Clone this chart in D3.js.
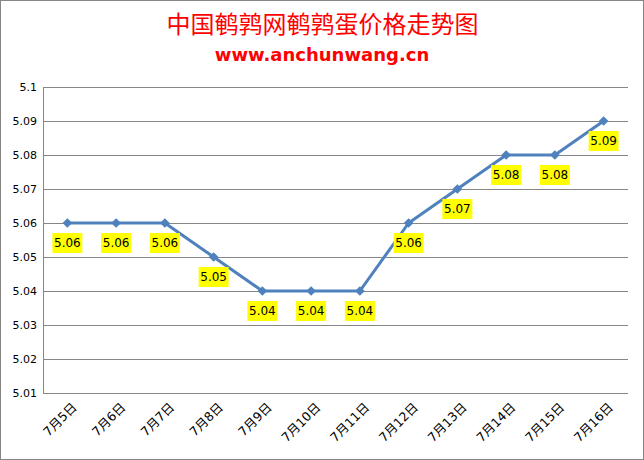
<!DOCTYPE html>
<html>
<head>
<meta charset="utf-8">
<script src="https://cdn.jsdelivr.net/npm/d3@7"></script>
<style>
  body { margin: 0; background: #fff; }
  svg text { font-family: Tahoma, "DejaVu Sans", "Noto Sans CJK SC", sans-serif; }
</style>
</head>
<body>
<div class="canvas"></div>
<script>
// DATA
var days = ['7月5日','7月6日','7月7日','7月8日','7月9日','7月10日','7月11日','7月12日','7月13日','7月14日','7月15日','7月16日'];
var prices = [5.06, 5.06, 5.06, 5.05, 5.04, 5.04, 5.04, 5.06, 5.07, 5.08, 5.08, 5.09];
var yTicks = [5.01, 5.02, 5.03, 5.04, 5.05, 5.06, 5.07, 5.08, 5.09, 5.1];

var w = 644, h = 460;
var margin = { left: 43, right: 16, top: 87, bottom: 67 };

var svg = d3.select('.canvas').append('svg')
    .attr('width', w)
    .attr('height', h);

// outer border
svg.append('rect')
    .attr('x', 0.5).attr('y', 0.5)
    .attr('width', w - 1).attr('height', h - 1)
    .attr('fill', '#fff')
    .attr('stroke', '#868686');

// TITLE
svg.append('text')
    .attr('x', w / 2 + 0.5).attr('y', 33)
    .attr('text-anchor', 'middle')
    .attr('fill', '#ff0000')
    .style('font-size', '24px')
    .style('font-family', '"Noto Sans CJK SC", sans-serif')
    .text('中国鹌鹑网鹌鹑蛋价格走势图');

svg.append('text')
    .attr('x', w / 2).attr('y', 61)
    .attr('text-anchor', 'middle')
    .attr('fill', '#ff0000')
    .style('font-size', '18px')
    .style('font-weight', 'bold')
    .text('www.anchunwang.cn');

// SCALES
var x = d3.scaleBand()
    .domain(days)
    .range([margin.left, w - margin.right]);

var y = d3.scaleLinear()
    .domain([5.01, 5.1])
    .range([h - margin.bottom, margin.top]);

// GRID
svg.append('g')
    .selectAll('line')
    .data(yTicks)
    .enter().append('line')
    .attr('x1', margin.left)
    .attr('x2', w - margin.right)
    .attr('y1', d => Math.round(y(d)) + 0.5)
    .attr('y2', d => Math.round(y(d)) + 0.5)
    .attr('stroke', '#868686')
    .attr('stroke-width', 1);

// left axis line
svg.append('line')
    .attr('x1', margin.left + 0.5).attr('x2', margin.left + 0.5)
    .attr('y1', margin.top).attr('y2', h - margin.bottom)
    .attr('stroke', '#868686');

// Y LABELS
svg.append('g')
    .selectAll('text')
    .data(yTicks)
    .enter().append('text')
    .attr('x', margin.left - 6)
    .attr('y', d => y(d))
    .attr('dy', '0.35em')
    .attr('text-anchor', 'end')
    .style('font-size', '11px')
    .attr('fill', '#000')
    .text(d => d3.format('.3~f')(d));

// X LABELS
svg.append('g')
    .selectAll('text')
    .data(days)
    .enter().append('text')
    .attr('transform', d => 'translate(' + (x(d) + x.bandwidth() / 2 + 7) + ',' + (h - margin.bottom + 12) + ') rotate(-45)')
    .attr('text-anchor', 'end')
    .attr('dy', '0.35em')
    .style('font-size', '12.5px')
    .attr('fill', '#000')
    .text(d => d);

// LINE
var cx = (d, i) => x(days[i]) + x.bandwidth() / 2;
var line = d3.line()
    .x(cx)
    .y(d => y(d));

svg.append('path')
    .datum(prices)
    .attr('d', line)
    .attr('fill', 'none')
    .attr('stroke', '#4f81bd')
    .attr('stroke-width', 3)
    .attr('stroke-linejoin', 'round');

// MARKERS
svg.append('g')
    .selectAll('path')
    .data(prices)
    .enter().append('path')
    .attr('d', d3.symbol().type(d3.symbolDiamond2).size(60))
    .attr('transform', (d, i) => 'translate(' + cx(d, i) + ',' + y(d) + ')')
    .attr('fill', '#4f81bd');

// DATA LABELS
var lbl = svg.append('g')
    .selectAll('g')
    .data(prices)
    .enter().append('g')
    .attr('transform', (d, i) => 'translate(' + cx(d, i) + ',' + (y(d) + 20) + ')');

lbl.append('rect')
    .attr('x', -15).attr('y', -10)
    .attr('width', 30).attr('height', 20)
    .attr('fill', '#ffff00');

lbl.append('text')
    .attr('text-anchor', 'middle')
    .attr('dy', '0.35em')
    .style('font-size', '12px')
    .attr('fill', '#000')
    .text(d => d.toFixed(2));
</script>
</body>
</html>
